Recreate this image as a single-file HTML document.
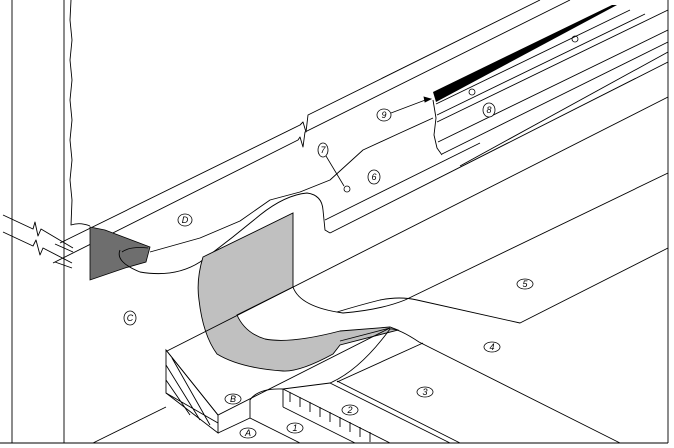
<!DOCTYPE html>
<html><head><meta charset="utf-8"><style>
html,body{margin:0;padding:0;background:#fff;}
svg{display:block}
text{font-family:"Liberation Sans",sans-serif;font-size:9px;font-style:italic;fill:#000}
</style></head><body>
<svg width="674" height="448" viewBox="0 0 674 448" xmlns="http://www.w3.org/2000/svg">
<g fill="none" stroke="#000" stroke-width="0.9" stroke-linejoin="round">
<line x1="668" y1="0" x2="668" y2="443"/>
<line x1="0" y1="443" x2="668" y2="443"/>
<line x1="12" y1="0" x2="12" y2="443"/>
<line x1="64" y1="0" x2="64" y2="443"/>
<path d="M71,0 L70,20 L72,40 L70,60 L72,80 L70,100 L72,120 L70,140 L72,160 L70,180 L72,200 L71,225 Q80,222 90,226"/>
<path d="M3,215 L33,229 L35,222 L38,236 L41,229 L73,248"/>
<path d="M3,232 L33,246 L36,240 L40,255 L43,248 L72,263"/>
<line x1="55" y1="244" x2="73" y2="252"/>
<line x1="55" y1="262" x2="72" y2="268"/>
<path d="M60,243 L300,125 L303,122 L306,132 L308,115 L540,0"/>
<path d="M53,263 L298,140 L300,137 L303,147 L305,132 L570,0"/>
<path d="M150,252 L200,238 L240,221 L270,200 L300,192 L330,180 L363,150 L400,133 L433,118"/>
<line x1="436" y1="104" x2="630" y2="10"/>
<line x1="437" y1="115" x2="645" y2="14"/>
<line x1="437" y1="122" x2="668" y2="10"/>
<line x1="438" y1="142" x2="668" y2="30"/>
<line x1="442" y1="154" x2="668" y2="42"/>
<line x1="460" y1="166" x2="668" y2="52"/>
<path d="M433,100 L436,118 L434,135 L437,148 L442,155"/>
<line x1="330" y1="233" x2="668" y2="62"/>
<line x1="325" y1="220" x2="480" y2="143"/>
<line x1="405" y1="300" x2="668" y2="173"/>
<path d="M337,312 Q360,305 380,300 Q400,296 417,300 L520,323 L668,248"/>
</g>
<!-- dark -->
<path d="M90,227 L105,230 L150,247 L146,262 L125,268 L90,280 Z" fill="#6e6e6e" stroke="#000" stroke-width="0.8"/>
<path d="M120,250 Q115,262 140,272 Q175,278 200,262 Q230,240 260,215 Q285,195 307,193 Q322,195 323,210 L325,230 L330,233" fill="none" stroke="#000" stroke-width="0.9"/>
<path d="M122,252 Q130,246 148,248" fill="none" stroke="#000" stroke-width="0.8"/>
<!-- gray sheet -->
<path d="M203,257 L293,213 L293,287 L237,315 Q245,333 265,339 Q290,344 340,331 L390,327 L398,330 L340,345 L333,354 Q300,372 283,371 Q240,368 217,354 Q203,335 199,300 Q196,280 203,257 Z" fill="#c0c0c0" stroke="#000" stroke-width="0.9"/>
<path d="M293,287 Q300,307 343,313 Q380,310 405,300" fill="none" stroke="#000" stroke-width="0.9"/>
<g fill="none" stroke="#000" stroke-width="0.9">
<line x1="167" y1="351" x2="668" y2="97"/>
<path d="M166,350 L166,393 L218,433 L218,415 Z" fill="#fff"/>
<path d="M166,350 L218,415 L390,328 L340,341" />
<path d="M166,365 L200,420 M166,380 L190,415 M172,358 L210,425 M166,393 L218,423"/>
<line x1="93" y1="443" x2="166" y2="407"/>
<path d="M250,418 L250,400 Q258,388 283,389 L330,383 Q360,370 390,329 Q398,328 419,342 L620,443"/>
<line x1="218" y1="433" x2="250" y2="418"/>
<line x1="250" y1="418" x2="300" y2="443"/>
<line x1="283" y1="407" x2="355" y2="443"/>
<line x1="283" y1="389" x2="283" y2="407"/>
<line x1="283" y1="389" x2="390" y2="443"/>
<path d="M290,392 v10 M300,397 v10 M310,402 v10 M320,407 v10 M330,412 v10 M340,417 v10 M350,422 v10 M360,427 v10 M370,432 v10"/>
<line x1="330" y1="383" x2="450" y2="443"/>
<line x1="337" y1="381" x2="460" y2="443"/>
<line x1="337" y1="382" x2="423" y2="343"/>
</g>
<path d="M433,92 L612,5 L617,5 L436,102 Z" fill="#000"/>
<g stroke="#000" stroke-width="0.8" fill="none">
<line x1="326" y1="156" x2="344" y2="186"/>
<line x1="391" y1="113" x2="428" y2="99"/>
<path d="M424,97 L431,99 L425,102 Z" fill="#000"/>
<circle cx="347" cy="189" r="3"/>
<circle cx="472" cy="92" r="3"/>
<circle cx="575" cy="39" r="3"/>
</g>
<g stroke="#000" stroke-width="0.8" fill="#fff">
<ellipse cx="185" cy="220" rx="7" ry="6"/>
<ellipse cx="323" cy="150" rx="5" ry="7"/>
<ellipse cx="374" cy="177" rx="6" ry="7"/>
<ellipse cx="384" cy="115" rx="7" ry="6"/>
<ellipse cx="489" cy="110" rx="6" ry="7"/>
<ellipse cx="525" cy="284" rx="8" ry="5"/>
<ellipse cx="492" cy="347" rx="8" ry="5"/>
<ellipse cx="425" cy="392" rx="8" ry="5"/>
<ellipse cx="350" cy="410" rx="8" ry="5"/>
<ellipse cx="295" cy="428" rx="8" ry="5"/>
<ellipse cx="248" cy="433" rx="8" ry="5"/>
<ellipse cx="233" cy="399" rx="8" ry="5"/>
<ellipse cx="130" cy="318" rx="6" ry="7"/>
</g>
<g text-anchor="middle">
<text x="185" y="223">D</text><text x="323" y="153">7</text><text x="374" y="180">6</text>
<text x="384" y="118">9</text><text x="489" y="113">8</text><text x="525" y="287">5</text>
<text x="492" y="350">4</text><text x="425" y="395">3</text><text x="350" y="413">2</text>
<text x="295" y="431">1</text><text x="248" y="436">A</text><text x="233" y="402">B</text>
<text x="130" y="321">C</text>
</g>
</svg>
</body></html>
